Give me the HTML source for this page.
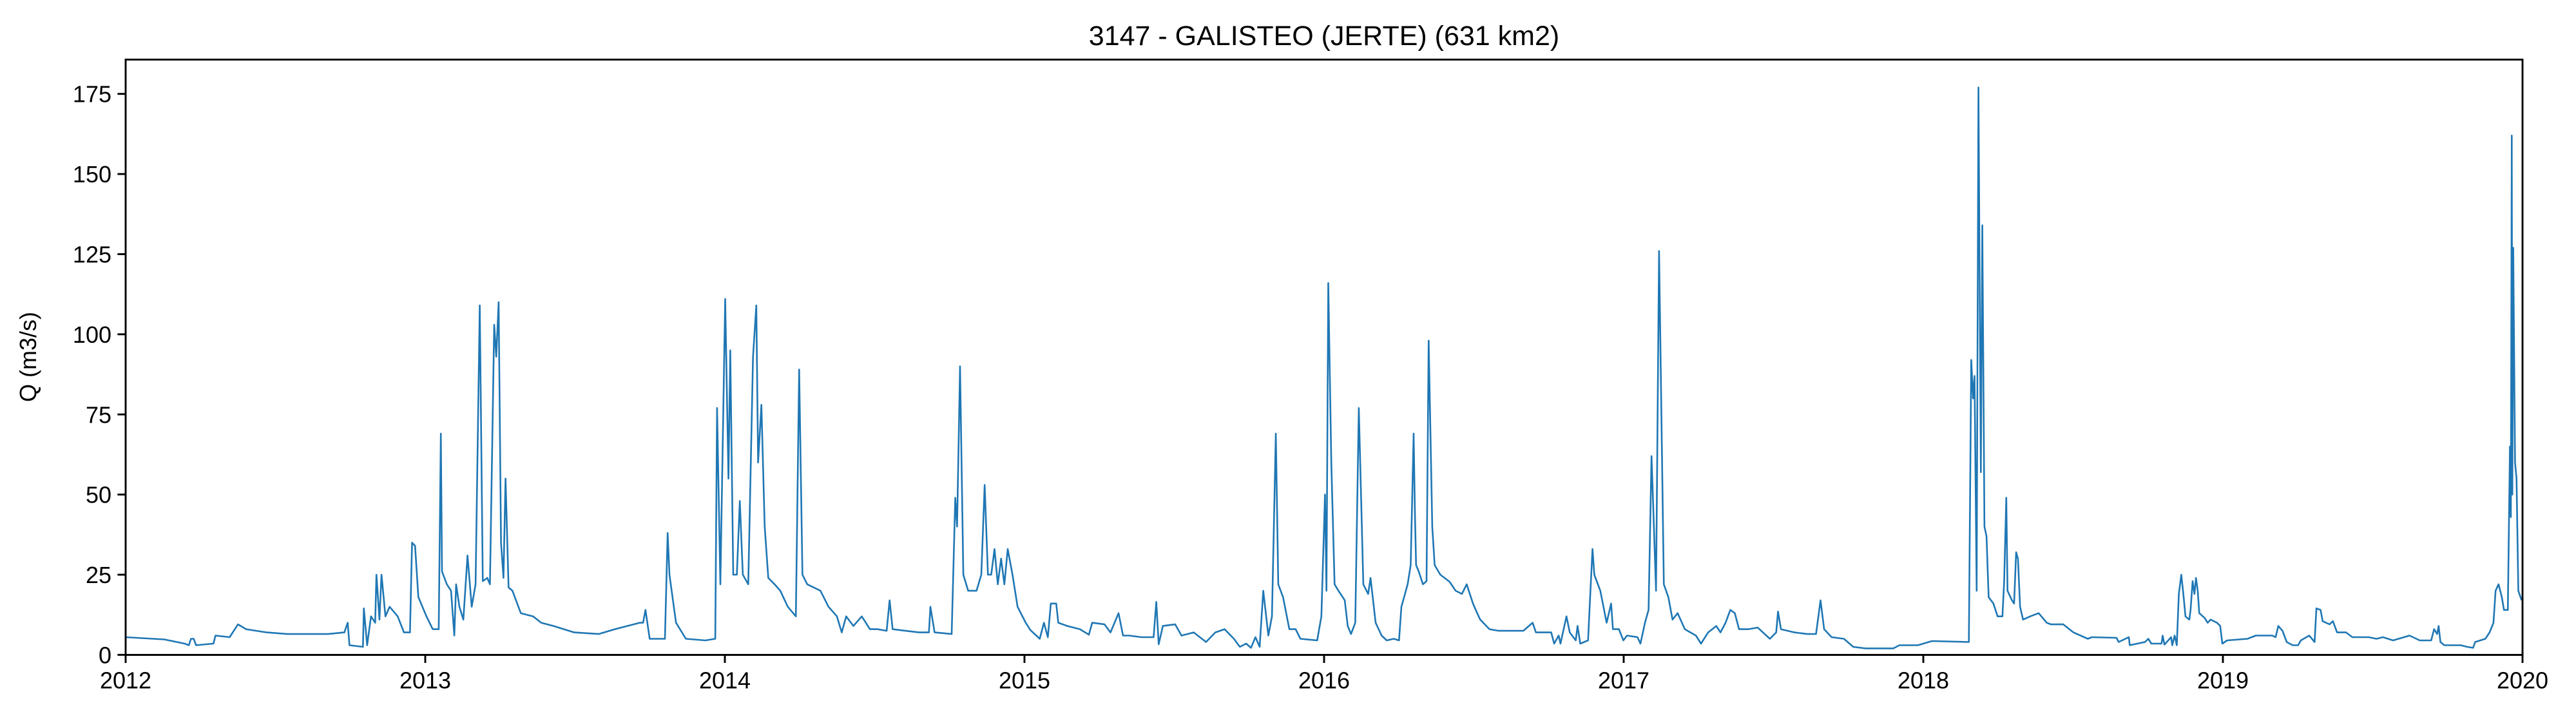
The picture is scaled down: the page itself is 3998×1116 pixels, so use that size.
<!DOCTYPE html>
<html><head><meta charset="utf-8"><style>
html,body{margin:0;padding:0;background:#fff}
svg{display:block}
text{font-family:"Liberation Sans","DejaVu Sans",sans-serif;fill:#000}
</style></head><body>
<svg id="chart" width="3998" height="1116" viewBox="0 0 3998 1116" xmlns="http://www.w3.org/2000/svg">
<rect x="0" y="0" width="3998" height="1116" fill="#fff"/>
<text x="2055" y="70" font-size="43" text-anchor="middle">3147 - GALISTEO (JERTE) (631 km2)</text>
<text x="0" y="0" font-size="36" text-anchor="middle" transform="translate(56,554) rotate(-90)">Q (m3/s)</text>
<g id="grid"></g>
<clipPath id="clip"><rect x="195" y="92" width="3720" height="925"/></clipPath>
<path id="series" fill="none" stroke="#1f77b4" stroke-width="2.6" stroke-linejoin="round" clip-path="url(#clip)"/>
<rect x="195" y="92.5" width="3720" height="924" fill="none" stroke="#000" stroke-width="2.9"/>
</svg>
<script>
const xTicks = [2012,2013,2014,2015,2016,2017,2018,2019,2020];
const yTicks = [0,25,50,75,100,125,150,175];
const years = [2012.00,2012.129,2012.197,2012.211,2012.218,2012.227,2012.235,2012.293,2012.300,2012.347,2012.375,2012.402,2012.471,2012.539,2012.676,2012.730,2012.741,2012.747,2012.792,2012.795,2012.806,2012.819,2012.833,2012.837,2012.847,2012.854,2012.867,2012.881,2012.908,2012.929,2012.949,2012.956,2012.966,2012.977,2013.004,2013.025,2013.045,2013.052,2013.056,2013.072,2013.086,2013.097,2013.103,2013.114,2013.127,2013.141,2013.155,2013.168,2013.182,2013.192,2013.207,2013.216,2013.230,2013.237,2013.245,2013.253,2013.261,2013.268,2013.278,2013.291,2013.319,2013.360,2013.387,2013.428,2013.497,2013.579,2013.633,2013.716,
2013.727,2013.735,2013.749,2013.80,2013.809,2013.815,2013.837,2013.87,2013.935,2013.968,2013.974,2013.985,2014.001,2014.012,2014.018,2014.028,2014.04,2014.05,2014.06,2014.078,2014.094,2014.105,2014.111,2014.122,2014.133,2014.145,2014.166,2014.185,2014.21,2014.237,2014.248,2014.259,2014.275,2014.319,2014.346,2014.374,2014.39,2014.405,2014.429,2014.457,2014.484,2014.51,2014.54,2014.55,2014.56,2014.648,2014.681,2014.686,2014.70,2014.757,2014.769,2014.775,2014.785,2014.796,2014.812,2014.84,2014.856,2014.867,2014.878,2014.889,2014.9,2014.911,2014.922,2014.933,2014.944,2014.96,2014.977,2015.004,
2015.02,2015.051,2015.065,2015.078,2015.088,2015.106,2015.113,2015.143,2015.185,2015.215,2015.226,2015.267,2015.287,2015.314,2015.329,2015.349,2015.390,2015.431,2015.440,2015.448,2015.462,2015.503,2015.524,2015.565,2015.606,2015.637,2015.668,2015.699,2015.719,2015.740,2015.756,2015.771,2015.785,2015.797,2015.814,2015.826,2015.839,2015.847,2015.863,2015.884,2015.905,2015.921,2015.977,2015.991,2016.003,2016.008,2016.014,2016.024,2016.035,2016.048,2016.069,2016.079,2016.090,2016.104,2016.116,2016.131,2016.147,2016.155,2016.172,2016.192,2016.209,2016.233,2016.250,2016.258,2016.264,2016.279,2016.289,2016.299,2016.303,2016.307,2016.316,2016.330,2016.342,2016.349,2016.361,2016.369,2016.388,2016.419,2016.439,2016.460,2016.476,2016.497,2016.511,2016.521,2016.552,2016.583,2016.665,2016.696,2016.707,2016.758,2016.768,2016.783,2016.789,2016.809,2016.820,2016.840,2016.846,2016.855,2016.881,2016.888,2016.896,2016.902,2016.922,2016.943,2016.958,2016.964,2016.984,2016.999,2017.011,2017.046,2017.056,2017.071,2017.083,2017.093,2017.108,2017.118,2017.134,2017.149,2017.163,2017.180,2017.204,2017.241,2017.258,2017.282,2017.309,2017.323,2017.340,2017.356,2017.371,2017.385,2017.416,2017.447,2017.488,2017.509,2017.515,2017.525,2017.570,2017.612,2017.642,2017.657,2017.669,2017.694,2017.735,2017.766,2017.807,2017.900,2017.920,2017.982,2018.029,
2018.152,2018.160,2018.166,2018.171,2018.178,2018.184,2018.192,2018.197,2018.204,2018.211,2018.218,2018.234,2018.248,2018.264,2018.270,2018.277,2018.281,2018.296,2018.303,2018.310,2018.316,2018.323,2018.333,2018.357,2018.385,2018.412,2018.426,2018.467,2018.501,2018.549,2018.563,2018.645,2018.652,2018.686,2018.689,2018.740,2018.751,2018.761,2018.795,2018.799,2018.805,2018.827,2018.831,2018.839,2018.846,2018.853,2018.861,2018.868,2018.875,2018.888,2018.892,2018.899,2018.905,2018.910,2018.916,2018.921,2018.939,2018.949,2018.959,2018.980,2018.991,2018.998,2019.014,2019.082,2019.110,2019.165,2019.176,2019.185,2019.199,2019.213,2019.233,2019.251,2019.260,2019.288,2019.306,2019.312,2019.326,2019.333,2019.356,2019.367,2019.381,2019.411,2019.432,2019.486,2019.513,2019.534,2019.568,2019.623,2019.657,2019.695,2019.705,2019.715,2019.720,2019.726,2019.739,2019.794,2019.815,2019.835,2019.842,2019.876,2019.890,2019.903,2019.910,2019.920,2019.931,2019.938,2019.951,2019.958,2019.961,2019.964,2019.966,2019.969,2019.975,2019.980,2019.986,2019.997];
const flow = [5.5,4.8,3.5,3,5,5,3,3.5,6,5.5,9.5,8,7,6.5,6.5,7,10,3,2.5,14.5,3,12,10,25,11,25,12,15,12,7,7,35,34,18,12,8,8,69,26,22,20,6,22,15,11,31,15,22,109,23,24,22,103,93,110,35,24,55,21,20,13,12,10,9,7,6.5,8,10,
10,14,5,5,38,25,10,5,4.5,5,77,22,111,55,95,25,25,48,25,22,93,109,60,78,40,24,22,20,15,12,89,25,22,20,15,12,7,12,9,12,8,8,7.5,17,8,7,7,15,7,6.5,49,40,90,25,20,20,25,53,25,25,33,22,30,22,33,25,15,10,
7.7,5,10,5.5,16,16,10,9,8,6.3,10,9.5,7,13,6,6,5.5,5.5,16.5,3.3,9,9.5,6,7,4,7,8,5,2.5,3.5,2.2,5.5,2.5,20,6,12,69,22,18,8,8,5,4.5,12,50,20,116,60,22,20,17,9,6.5,10,77,22,19,24,10,6,4.5,5,4.5,15,17,22,28,69,45,28,26,22,23,98,40,28,25,22.8,20,19,22,16,13,11,8,7.5,7.5,10,7,7,3.5,6,3.5,12,7,4.5,9,3.5,4.5,18,33,25,20,10,16,8,8,4.5,6,5.5,3.5,10,14,62,20,126,22,18,11,13,8,6,3.5,7,9,7,10,14,13,8,8,8.5,5,7,13.5,8,7,6.5,6.5,17,8,5.5,5,2.5,2,2,3,3,4.3,
4,92,80,87,20,177,57,134,40,37,18,16,12,12,23,49,20,17,16,32,30,15,11,12,13,10,9.5,9.5,7,5,5.5,5.3,4,5.5,3,4,5,3.5,3.5,6,3.2,5.5,3,6,3,19,25,19,12,11,14,23,19,24,20,13,11.5,10,11,10,9,3.5,4.5,5,6,6,5.5,9,7.5,4,3,3,4.5,6,4,14.5,14,10.5,9.5,10.5,7,7,5.5,5.5,5,5.5,4.5,6,4.5,4.5,8,6.5,9,4,3,3,2.5,2.2,4,5,7,10,20,22,18,14,14,65,43,162,50,127,60,55,20,17];

const L=195,R=3915,T=92.5,B=1016.4,YMAX=185.7;
function xs(y){return L+(y-2012)/8*(R-L);}
function ys(v){return B-v/YMAX*(B-T);}
const NS="http://www.w3.org/2000/svg";
const g=document.getElementById('grid');
function mk(tag,attrs){const e=document.createElementNS(NS,tag);for(const k in attrs)e.setAttribute(k,attrs[k]);return e;}
xTicks.forEach(t=>{
  const x=xs(t);
  const ln=mk('line',{x1:x,x2:x,y1:B,y2:B+12.6,stroke:'#000','stroke-width':2.9});
  
  
  g.appendChild(ln);
  const tx=mk('text',{x:x,y:B+52,'font-size':36,'text-anchor':'middle'});
  
  
  tx.textContent=t;g.appendChild(tx);
});
yTicks.forEach(t=>{
  const y=ys(t);
  const ln=mk('line',{x1:L-12.6,x2:L,y1:y,y2:y,stroke:'#000','stroke-width':2.9});
  
  
  g.appendChild(ln);
  const tx=mk('text',{x:L-22,y:y+13,'font-size':36,'text-anchor':'end'});
  
  
  tx.textContent=t;g.appendChild(tx);
});
const n=Math.min(years.length,flow.length);
let d='';
for(let i=0;i<n;i++){d+=(i?'L':'M')+xs(years[i]).toFixed(1)+','+ys(flow[i]).toFixed(1);}
document.getElementById('series').setAttribute('d',d);
</script>
</body></html>
